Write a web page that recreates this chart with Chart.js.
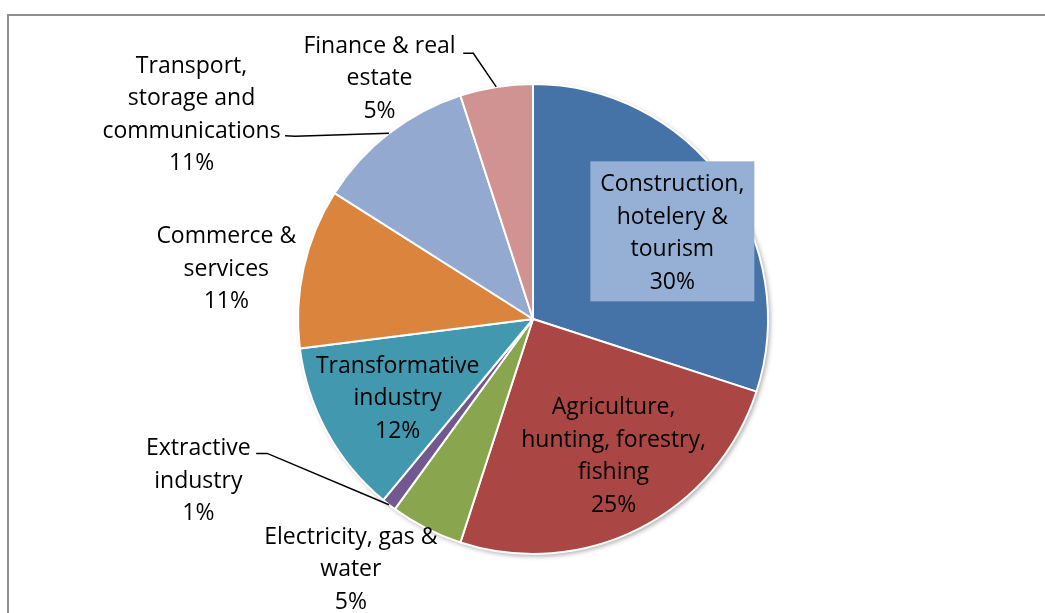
<!DOCTYPE html>
<html lang="en">
<head>
<meta charset="UTF-8" />
<title>Sector shares</title>
<script src="https://cdn.jsdelivr.net/npm/chart.js"></script>
<style>
  html, body { margin: 0; padding: 0; background: #fff; }
  #wrap { position: relative; width: 1045px; height: 613px; overflow: hidden; }
  #frame {
    position: absolute; left: 7px; top: 14px; width: 1100px; height: 700px;
    border-top: 2px solid #8e8e8e; border-left: 2px solid #8e8e8e;
  }
  #pieChart { position: absolute; left: 0; top: 0; }
</style>
</head>
<body>
<div id="wrap">
  <div id="frame"></div>
  <canvas id="pieChart" width="1045" height="613"></canvas>
</div>
<script>
// data, clockwise from 12 o'clock
const sectorLabels = [
  ['Construction,', 'hotelery &', 'tourism'],
  ['Agriculture,', 'hunting, forestry,', 'fishing'],
  ['Electricity, gas &', 'water'],
  ['Extractive', 'industry'],
  ['Transformative', 'industry'],
  ['Commerce &', 'services'],
  ['Transport,', 'storage and', 'communications'],
  ['Finance & real', 'estate']
];
const sharePct = [30, 25, 5, 1, 12, 11, 11, 5];
const sliceColors = ['#4572A7', '#AA4643', '#89A54E', '#71588F', '#4198AF', '#DB843D', '#93A9CF', '#D19392'];

// label layout, in units of the pie radius relative to the centre
const labelPos = [
  [0.593, -0.373], [0.343, 0.576], [-0.775, 1.059], [-1.424, 0.682],
  [-0.576, 0.331], [-1.305, -0.220], [-1.453, -0.877], [-0.653, -1.030]
];
// leader lines: [start, elbow] near the label, then to the slice's outer middle
const leaders = {
  3: [[-1.178, 0.572], [-1.131, 0.572]],
  6: [[-1.055, -0.780], [-1.012, -0.778]],
  7: [[-0.297, -1.131], [-0.254, -1.131]]
};
const boxedLabel = 0; // the one label with a filled box behind it

const lineH = 32.5;
const textNudge = 2; // Open Sans sits a bit high with 'middle' baseline
const labelFont = '23px "Open Sans", Lato, sans-serif';

const shadowPlugin = {
  id: 'pieShadow',
  beforeDatasetsDraw(chart) {
    const arc = chart.getDatasetMeta(0).data[0];
    const ctx = chart.ctx;
    ctx.save();
    ctx.shadowColor = 'rgba(0,0,0,0.35)';
    ctx.shadowBlur = 5;
    ctx.shadowOffsetX = 2;
    ctx.shadowOffsetY = 2;
    ctx.fillStyle = '#fff';
    ctx.beginPath();
    ctx.arc(arc.x, arc.y, arc.outerRadius, 0, Math.PI * 2);
    ctx.fill();
    ctx.restore();
  }
};

const labelPlugin = {
  id: 'sliceLabels',
  afterDatasetsDraw(chart) {
    const ctx = chart.ctx;
    const arcs = chart.getDatasetMeta(0).data;
    const cx = arcs[0].x, cy = arcs[0].y, r = arcs[0].outerRadius;
    ctx.save();
    ctx.font = labelFont;
    ctx.textAlign = 'center';
    ctx.textBaseline = 'middle';

    // leader lines
    ctx.strokeStyle = '#000';
    ctx.lineWidth = 1.5;
    Object.keys(leaders).forEach(k => {
      const a = arcs[k];
      const mid = (a.startAngle + a.endAngle) / 2;
      const [p0, p1] = leaders[k];
      ctx.beginPath();
      ctx.moveTo(cx + p0[0] * r, cy + p0[1] * r);
      ctx.lineTo(cx + p1[0] * r, cy + p1[1] * r);
      ctx.lineTo(cx + Math.cos(mid) * r, cy + Math.sin(mid) * r);
      ctx.stroke();
    });

    sectorLabels.forEach((lines, i) => {
      const all = lines.concat([sharePct[i] + '%']);
      const x = cx + labelPos[i][0] * r;
      const y0 = cy + labelPos[i][1] * r - (all.length - 1) * lineH / 2;
      if (i === boxedLabel) {
        const w = Math.max(...all.map(t => ctx.measureText(t).width)) + 20;
        const h = all.length * lineH + 10;
        ctx.fillStyle = '#95B0D4';
        ctx.fillRect(x - w / 2, y0 - lineH / 2 - 5, w, h);
      }
      ctx.fillStyle = '#000';
      all.forEach((t, j) => ctx.fillText(t, x, y0 + j * lineH + textNudge));
    });
    ctx.restore();
  }
};

new Chart(document.getElementById('pieChart'), {
  type: 'pie',
  data: {
    labels: sectorLabels.map(l => l.join(' ')),
    datasets: [{
      data: sharePct,
      backgroundColor: sliceColors,
      borderColor: '#ffffff',
      borderWidth: 2
    }]
  },
  options: {
    responsive: false,
    animation: false,
    layout: { padding: { left: 297, right: 276, top: 83, bottom: 58 } },
    plugins: {
      legend: { display: false },
      tooltip: { enabled: false }
    }
  },
  plugins: [shadowPlugin, labelPlugin]
});
</script>
</body>
</html>
